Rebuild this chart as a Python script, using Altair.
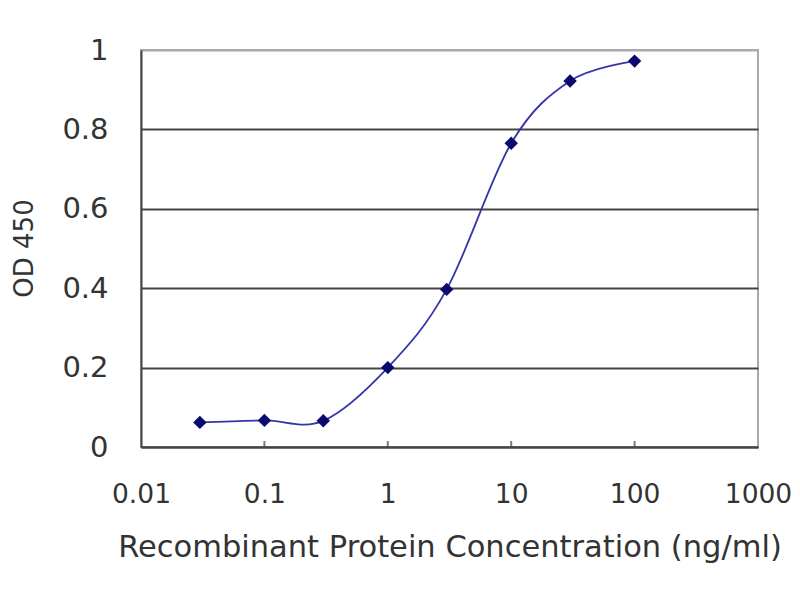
import pandas as pd
import altair as alt

# serial dilution of the recombinant protein (ng/ml) and measured OD 450
conc = [0.03, 0.1, 0.3, 1, 3, 10, 30, 100]
od450 = [0.062, 0.067, 0.066, 0.2, 0.397, 0.765, 0.922, 0.972]

x_ticks = [0.01, 0.1, 1, 10, 100, 1000]
y_ticks = [0, 0.2, 0.4, 0.6, 0.8, 1]

df = pd.DataFrame({"conc": conc, "od": od450})
ticks_df = pd.DataFrame({"t": x_ticks[1:-1]})

FONT = "DejaVu Sans"
TXT = "#333333"

x_scale = alt.Scale(type="log", domain=[0.01, 1000])
y_scale = alt.Scale(domain=[0, 1])

x_enc = alt.X(
    "conc:Q", scale=x_scale,
    title="Recombinant Protein Concentration (ng/ml)",
    axis=alt.Axis(values=x_ticks, format="~g", grid=False, ticks=False,
                  domainColor="#444", domainWidth=2,
                  labelFont=FONT, labelFontSize=26.5, labelColor=TXT,
                  labelPadding=47, labelBaseline="middle", labelFlush=False,
                  titleFont=FONT, titleFontSize=30.5, titleFontWeight="normal",
                  titleColor=TXT, titleBaseline="middle", titleY=100),
)
y_enc = alt.Y(
    "od:Q", scale=y_scale, title="OD 450",
    axis=alt.Axis(values=y_ticks, format="~g", ticks=False,
                  gridColor={"condition": {"test": "datum.value == 1", "value": "#aaaaaa"},
                             "value": "#444444"},
                  gridWidth=2, domainColor="#444", domainWidth=2,
                  labelFont=FONT, labelFontSize=29, labelColor=TXT,
                  labelPadding=33, labelBaseline="middle", labelFlush=False,
                  titleFont=FONT, titleFontSize=26, titleFontWeight="normal",
                  titleColor=TXT, titleBaseline="middle", titleAngle=-90,
                  titleX=-117, titleY=198),
)

curve = alt.Chart(df).mark_line(
    interpolate="cardinal", color="#3535a8", strokeWidth=1.8
).encode(x=x_enc, y=y_enc)

points = alt.Chart(df).mark_point(
    shape="diamond", filled=True, color="#0a0a6e", size=180, opacity=1
).encode(x=alt.X("conc:Q", scale=x_scale), y=alt.Y("od:Q", scale=y_scale))

xticks = alt.Chart(ticks_df).mark_tick(
    orient="vertical", color="#444", size=6, thickness=2, yOffset=-3
).encode(x=alt.X("t:Q", scale=x_scale), y=alt.datum(0, scale=y_scale))

chart = (
    alt.layer(curve, xticks, points)
    .properties(
        width=617, height=397,
        autosize=alt.AutoSizeParams(type="none"),
        padding={"left": 133, "top": 42, "right": 34, "bottom": 140},
        background="white",
    )
    .configure_view(stroke="#aaaaaa", strokeWidth=2)
)

chart.save("out.html", embed_options={"renderer": "svg", "actions": False})
